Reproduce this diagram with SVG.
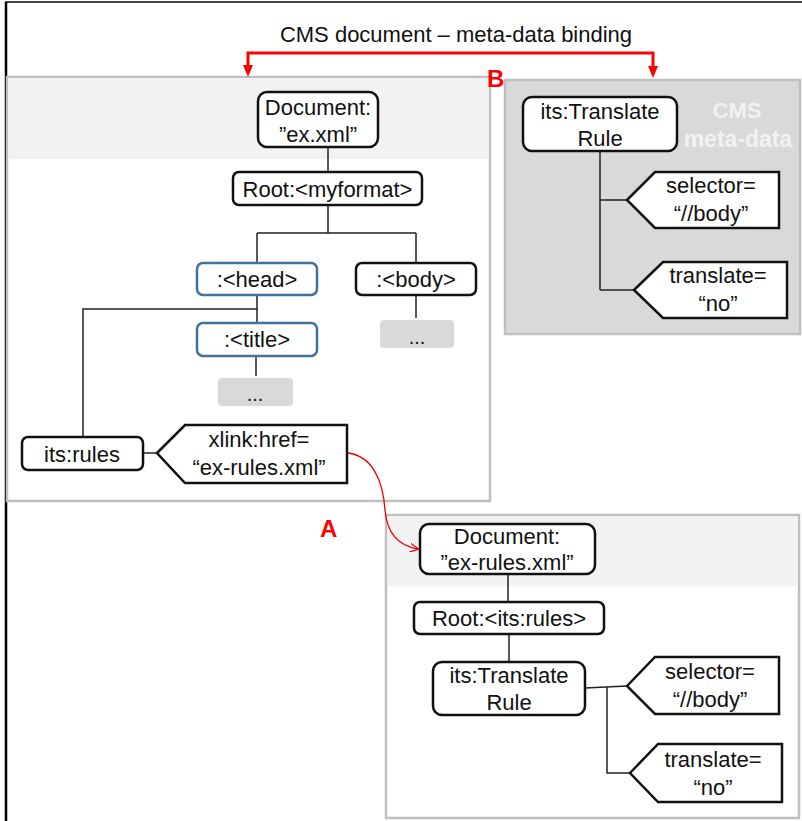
<svg xmlns="http://www.w3.org/2000/svg" width="802" height="821" viewBox="0 0 802 821">
<style>
.t{font-family:"Liberation Sans",Arial,sans-serif;font-size:22px;fill:#111;text-anchor:middle}
.n{fill:#fff;stroke:#111;stroke-width:2.5}
.nb{fill:#fff;stroke:#41719c;stroke-width:2.5}
.p{fill:#fff;stroke:#111;stroke-width:2.5}
.dots{fill:#d9d9d9}
.c{fill:none;stroke:#222;stroke-width:1.5}
.panel{stroke:#bfbfbf;stroke-width:2.5}
.lbl{font-family:"Liberation Sans",Arial,sans-serif;font-size:24px;font-weight:bold;fill:#f00}
</style>
<defs>
<marker id="open" viewBox="0 0 10 10" refX="9" refY="5" markerWidth="9" markerHeight="9" orient="auto" markerUnits="userSpaceOnUse">
<path d="M0,0 L10,5 L0,10" fill="none" stroke="#e00" stroke-width="1.3"/>
</marker>
</defs>
<rect x="0" y="0" width="802" height="821" fill="#fff"/>
<line x1="5" y1="2" x2="802" y2="2" stroke="#444" stroke-width="2"/>
<line x1="6" y1="2" x2="6" y2="821" stroke="#000" stroke-width="2.5"/>

<!-- panels -->
<g id="panel-left">
<rect class="panel" x="7" y="77" width="483" height="424" fill="#fff"/>
<rect x="8.2" y="78.2" width="480.6" height="81" fill="#f2f2f2"/>
</g>
<g id="panel-cms">
<rect class="panel" x="505" y="80" width="295" height="254" fill="#d9d9d9"/>
<text x="737" y="118" style="font-family:'Liberation Sans',Arial,sans-serif;font-size:22px;font-weight:bold;fill:#f2f2f2;text-anchor:middle">CMS</text>
<text x="738" y="147" style="font-family:'Liberation Sans',Arial,sans-serif;font-size:23px;font-weight:bold;fill:#f2f2f2;text-anchor:middle">meta-data</text>
</g>
<g id="panel-rules">
<rect class="panel" x="386" y="515" width="413" height="303" fill="#fff"/>
<rect x="387.2" y="516.2" width="410.6" height="70" fill="#f2f2f2"/>
</g>

<!-- title & binding -->
<g id="binding">
<text class="t" x="456" y="42">CMS document – meta-data binding</text>
<path d="M248,66 V53 H653 V67" fill="none" stroke="#f00" stroke-width="3"/>
<polygon points="243,65 253,65 248,77" fill="#f00"/>
<polygon points="648,66 658,66 653,78" fill="#f00"/>
<text class="lbl" x="487" y="87">B</text>
<text class="lbl" x="320" y="537">A</text>
</g>

<!-- connectors -->
<g id="connectors">
<path class="c" d="M328,147 V172"/>
<path class="c" d="M328,205 V233 M257,233 H416 M257,233 V263 M416,233 V263"/>
<path class="c" d="M416,295 V318"/>
<path class="c" d="M257,295 V323 M257,309 H83 V437"/>
<path class="c" d="M256,356 V376"/>
<path class="c" d="M143,453 H157"/>
<path class="c" d="M600,151 V290 M600,200 H627 M600,290 H634"/>
<path class="c" d="M508,574 V602"/>
<path class="c" d="M509,634 V662"/>
<path class="c" d="M585,688 L627,686 M607,687 V773 H630"/>
<path d="M348,453 C372,456 383,480 385,510 C387,535 400,546 418,549" fill="none" stroke="#e00" stroke-width="1.3" marker-end="url(#open)"/>
</g>

<!-- left document nodes -->
<g id="doc-ex">
<rect class="n" x="258" y="92" width="120" height="55" rx="9"/>
<text class="t" x="318" y="115">Document:</text>
<text class="t" x="318" y="142">”ex.xml”</text>
</g>
<g id="root-myformat">
<rect class="n" x="233" y="172" width="189" height="33" rx="6"/>
<text class="t" x="327.5" y="197">Root:&lt;myformat&gt;</text>
</g>
<g id="head">
<rect class="nb" x="197" y="263" width="120" height="32" rx="6"/>
<text class="t" x="257" y="287">:&lt;head&gt;</text>
</g>
<g id="body">
<rect class="n" x="356" y="263" width="120" height="32" rx="6"/>
<text class="t" x="416" y="287">:&lt;body&gt;</text>
</g>
<g id="body-more">
<rect class="dots" x="380" y="320" width="74" height="28" rx="4"/>
<text class="t" x="417" y="344" style="font-size:20px">...</text>
</g>
<g id="title">
<rect class="nb" x="197" y="323" width="120" height="33" rx="6"/>
<text class="t" x="257" y="347">:&lt;title&gt;</text>
</g>
<g id="title-more">
<rect class="dots" x="218" y="378" width="75" height="28" rx="4"/>
<text class="t" x="255" y="401" style="font-size:20px">...</text>
</g>
<g id="its-rules">
<rect class="n" x="22" y="437" width="121" height="33" rx="6"/>
<text class="t" x="82" y="462">its:rules</text>
</g>
<g id="xlink-href">
<polygon class="p" points="157,453 185,425 347,425 347,483 185,483"/>
<text class="t" x="259" y="447">xlink:href=</text>
<text class="t" x="259" y="475">“ex-rules.xml”</text>
</g>

<!-- CMS meta-data nodes -->
<g id="cms-rule">
<rect class="n" x="523" y="97" width="154" height="54" rx="9"/>
<text class="t" x="600" y="119">its:Translate</text>
<text class="t" x="600" y="146">Rule</text>
</g>
<g id="cms-selector">
<polygon class="p" points="627,200 655,172 779,172 779,228 655,228"/>
<text class="t" x="711" y="193">selector=</text>
<text class="t" x="711" y="221">“//body”</text>
</g>
<g id="cms-translate">
<polygon class="p" points="634,290 663,262 787,262 787,318 663,318"/>
<text class="t" x="718" y="283">translate=</text>
<text class="t" x="718" y="311">“no”</text>
</g>

<!-- ex-rules nodes -->
<g id="doc-ex-rules">
<rect class="n" x="420" y="524" width="175" height="50" rx="9"/>
<text class="t" x="507" y="544">Document:</text>
<text class="t" x="507" y="570">”ex-rules.xml”</text>
</g>
<g id="root-its-rules">
<rect class="n" x="414" y="602" width="190" height="32" rx="6"/>
<text class="t" x="509" y="626">Root:&lt;its:rules&gt;</text>
</g>
<g id="rules-rule">
<rect class="n" x="433" y="662" width="152" height="53" rx="9"/>
<text class="t" x="509" y="683">its:Translate</text>
<text class="t" x="509" y="710">Rule</text>
</g>
<g id="rules-selector">
<polygon class="p" points="627,686 655,657 779,657 779,714 655,714"/>
<text class="t" x="710" y="679">selector=</text>
<text class="t" x="710" y="707">“//body”</text>
</g>
<g id="rules-translate">
<polygon class="p" points="630,773 658,744 782,744 782,802 658,802"/>
<text class="t" x="713" y="767">translate=</text>
<text class="t" x="713" y="795">“no”</text>
</g>
</svg>
